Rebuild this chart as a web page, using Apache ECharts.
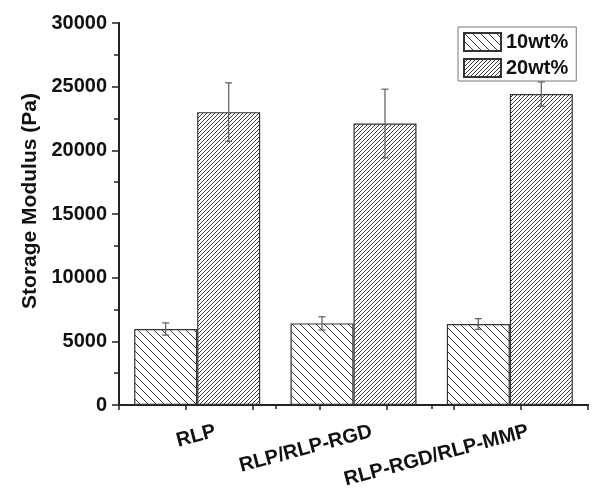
<!DOCTYPE html>
<html>
<head>
<meta charset="utf-8">
<script src="https://cdn.jsdelivr.net/npm/echarts@6/dist/echarts.min.js"></script>
<style>
  html, body { margin: 0; padding: 0; background: #fff; }
  #chart { width: 602px; height: 501px; }
</style>
</head>
<body>
<div id="chart"></div>
<script>
// data
const categories = ['RLP', 'RLP/RLP-RGD', 'RLP-RGD/RLP-MMP'];
const seriesNames = ['10wt%', '20wt%'];
const modulus10 = [5970, 6410, 6360];
const error10 = [480, 520, 420];
const modulus20 = [23000, 22100, 24420];
const error20 = [2300, 2700, 950];

const FONT = '"Liberation Sans", Arial, sans-serif';
const BAR_W = 63;

// hatch fill tiles
function hatch(size, dir) {
  const c = document.createElement('canvas');
  c.width = c.height = size;
  const g = c.getContext('2d');
  g.fillStyle = '#fff';
  g.fillRect(0, 0, size, size);
  g.strokeStyle = '#3a3a3a';
  g.lineWidth = 1;
  g.beginPath();
  if (dir === 'back') {
    g.moveTo(-1, -1); g.lineTo(size + 1, size + 1);
    g.moveTo(-1, size - 1); g.lineTo(1, size + 1);
    g.moveTo(size - 1, -1); g.lineTo(size + 1, 1);
  } else {
    g.moveTo(-1, size + 1); g.lineTo(size + 1, -1);
    g.moveTo(-1, 1); g.lineTo(1, -1);
    g.moveTo(size - 1, size + 1); g.lineTo(size + 1, size - 1);
  }
  g.stroke();
  return c;
}

const errRows = (vals, errs) => vals.map((v, i) => [i, v - errs[i], v + errs[i]]);

// error bar drawn at the bar centre, shifted by half a bar width
const errorBar = (shift) => (params, api) => {
  const lo = api.coord([api.value(0), api.value(1)]);
  const hi = api.coord([api.value(0), api.value(2)]);
  const x = lo[0] + shift;
  const cap = 3.5;
  const style = { stroke: '#666', lineWidth: 1.3 };
  return {
    type: 'group',
    children: [
      { type: 'line', shape: { x1: x, y1: hi[1], x2: x, y2: lo[1] }, style },
      { type: 'line', shape: { x1: x - cap, y1: hi[1], x2: x + cap, y2: hi[1] }, style },
      { type: 'line', shape: { x1: x - cap, y1: lo[1], x2: x + cap, y2: lo[1] }, style }
    ]
  };
};

const axisLine = { show: true, lineStyle: { color: '#222', width: 2 } };
const tickStyle = { color: '#222', width: 1.5 };

const chart = echarts.init(document.getElementById('chart'));
chart.setOption({
  animation: false,
  backgroundColor: '#fff',
  textStyle: { fontFamily: FONT },
  grid: { left: 119, right: 14, top: 23, bottom: 96 },
  legend: {
    data: seriesNames,
    orient: 'vertical',
    left: 458,
    top: 27,
    padding: [5, 8, 3, 5],
    itemWidth: 37,
    itemHeight: 18,
    itemGap: 6,
    icon: 'rect',
    borderColor: '#777',
    borderWidth: 1,
    textStyle: { fontSize: 20, fontWeight: 'bold', color: '#111', fontFamily: FONT }
  },
  xAxis: [
    {
      type: 'category',
      data: categories,
      position: 'bottom',
      axisLine,
      axisTick: { alignWithLabel: true, length: 8, lineStyle: tickStyle },
      axisLabel: {
        rotate: 15,
        margin: 31,
        align: 'right',
        padding: [0, -19, 0, 0],
        fontSize: 20,
        fontWeight: 'bold',
        color: '#111',
        fontFamily: FONT
      }
    },
    {
      type: 'value',
      position: 'top',
      min: 0, max: 7, interval: 1,
      axisLine,
      axisTick: { inside: true, length: 5, lineStyle: tickStyle },
      axisLabel: { show: false },
      splitLine: { show: false }
    },
    {
      type: 'value',
      position: 'bottom',
      min: 0, max: 3, interval: 1,
      axisLine: { show: false },
      axisTick: { length: 4, lineStyle: tickStyle },
      axisLabel: { show: false },
      splitLine: { show: false }
    }
  ],
  yAxis: [
    {
      type: 'value',
      min: 0, max: 30000, interval: 5000,
      name: 'Storage Modulus (Pa)',
      nameLocation: 'middle',
      nameGap: 74,
      nameTextStyle: { fontSize: 21, fontWeight: 'bold', color: '#111', fontFamily: FONT, padding: [0, 0, 0, 26] },
      axisLine,
      axisTick: { length: 7, lineStyle: tickStyle },
      minorTick: { show: true, splitNumber: 2, length: 4, lineStyle: tickStyle },
      axisLabel: {
        margin: 12, fontSize: 20, fontWeight: 'bold', color: '#111', fontFamily: FONT,
        formatter: (v) => String(v)
      },
      splitLine: { show: false }
    },
    {
      type: 'value',
      position: 'right',
      min: 0, max: 30000, interval: 2500,
      axisLine,
      axisTick: { inside: true, length: 5, lineStyle: tickStyle },
      axisLabel: { show: false },
      splitLine: { show: false }
    }
  ],
  series: [
    {
      name: seriesNames[0],
      type: 'bar',
      data: modulus10,
      barWidth: BAR_W,
      barGap: '0%',
      itemStyle: { color: { image: hatch(8, 'back'), repeat: 'repeat' }, borderColor: '#333', borderWidth: 1.2 }
    },
    {
      name: seriesNames[1],
      type: 'bar',
      data: modulus20,
      barWidth: BAR_W,
      barGap: '0%',
      itemStyle: { color: { image: hatch(4, 'fwd'), repeat: 'repeat' }, borderColor: '#333', borderWidth: 1.2 }
    },
    {
      type: 'custom',
      name: 'err10',
      data: errRows(modulus10, error10),
      encode: { x: 0, y: [1, 2] },
      renderItem: errorBar(-BAR_W / 2),
      z: 5
    },
    {
      type: 'custom',
      name: 'err20',
      data: errRows(modulus20, error20),
      encode: { x: 0, y: [1, 2] },
      renderItem: errorBar(BAR_W / 2),
      z: 5
    }
  ]
});
</script>
</body>
</html>
